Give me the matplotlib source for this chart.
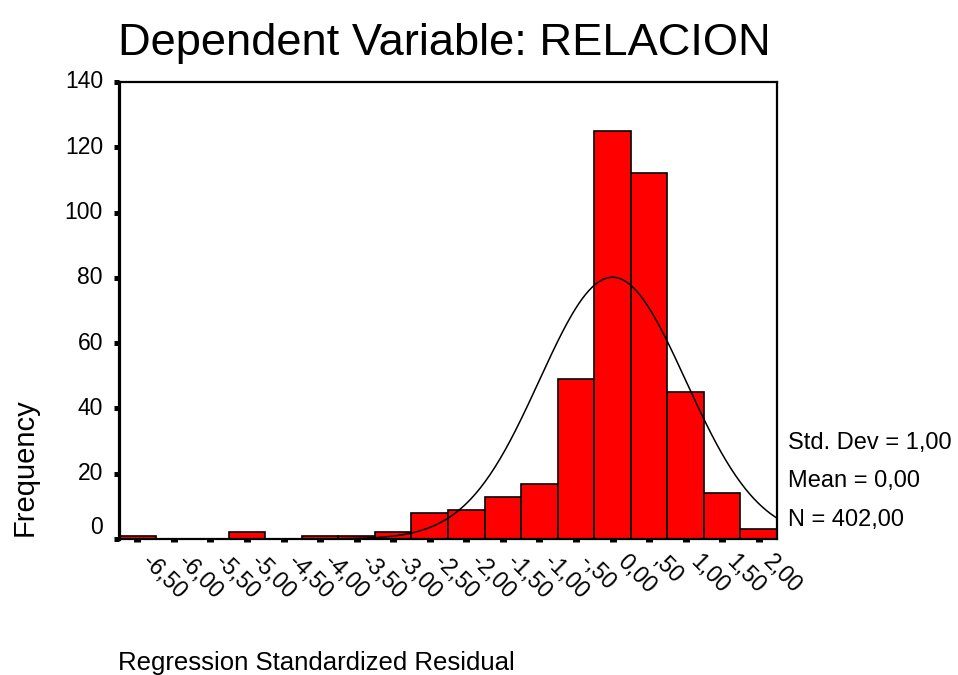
import numpy as np
import matplotlib
matplotlib.use("Agg")
import matplotlib.pyplot as plt
import matplotlib.transforms as mtransforms

plt.rcParams['font.family'] = ['Liberation Sans', 'DejaVu Sans']

# histogram of standardized residuals (bin centers, width 0,50)
bin_centers = [-6.5, -6.0, -5.5, -5.0, -4.5, -4.0, -3.5, -3.0, -2.5,
               -2.0, -1.5, -1.0, -0.5, 0.0, 0.5, 1.0, 1.5, 2.0]
counts = [1, 0, 0, 2, 0, 1, 1, 2, 8, 9, 13, 17, 49, 125, 112, 45, 14, 3]
x_labels = ['-6,50', '-6,00', '-5,50', '-5,00', '-4,50', '-4,00', '-3,50',
            '-3,00', '-2,50', '-2,00', '-1,50', '-1,00', '-,50', '0,00',
            ',50', '1,00', '1,50', '2,00']
y_ticks = [0, 20, 40, 60, 80, 100, 120, 140]
bin_width = 0.5
n_total = 402
mean_val = 0.0
std_val = 1.0

fig = plt.figure(figsize=(9.58, 6.75), dpi=100)
ax = fig.add_axes([119 / 958, 1 - 539 / 675, (777 - 119) / 958, (539 - 82) / 675])

ax.bar(bin_centers, counts, width=bin_width, color='#FF0000',
       edgecolor='black', linewidth=1.2, zorder=2)

# fitted normal curve
xlo = bin_centers[0] - bin_width / 2
xhi = bin_centers[-1] + bin_width / 2
xs = np.linspace(xlo, xhi, 400)
ys = n_total * bin_width / (std_val * np.sqrt(2 * np.pi)) * np.exp(-0.5 * ((xs - mean_val) / std_val) ** 2)
ax.plot(xs, ys, color='black', linewidth=1.1, zorder=3)

ax.set_xlim(xlo, xhi)
ax.set_ylim(0, 140)

for side in ['top', 'right', 'bottom']:
    ax.spines[side].set_linewidth(1.6)
ax.spines['left'].set_linewidth(2.3)

# x ticks: small dashes under each bin
ax.set_xticks(bin_centers)
ax.set_xticklabels([])
ax.tick_params(axis='x', direction='out', length=1.8, width=5, pad=0)

# y ticks: small squares
ax.set_yticks(y_ticks)
ax.set_yticklabels([])
ax.tick_params(axis='y', direction='out', length=3.6, width=3.6)

px = fig.dpi_scale_trans
xform = mtransforms.blended_transform_factory(ax.transData, ax.transAxes)
for c, lab in zip(bin_centers, x_labels):
    ax.text(c, 0, lab, fontsize=16.5, rotation=-45, rotation_mode='anchor',
            ha='left', va='center',
            transform=xform + mtransforms.ScaledTranslation(0.08, -0.19, px))

yform = mtransforms.blended_transform_factory(ax.transAxes, ax.transData)
for v in y_ticks:
    dy = 0.12 if v == 0 else 0.0
    ax.text(0, v, str(v), fontsize=16.5, ha='right', va='center',
            transform=yform + mtransforms.ScaledTranslation(-0.16, dy, px))

fig.text(118 / 958, 1 - 55 / 675, 'Dependent Variable: RELACION',
         fontsize=32.6, ha='left', va='baseline')
fig.text(25 / 958, 1 - 467 / 675, 'Frequency', fontsize=21,
         rotation=90, ha='center', va='center')
fig.text(118 / 958, 1 - 670 / 675, 'Regression Standardized Residual',
         fontsize=18.5, ha='left', va='baseline')

stats = ['Std. Dev = 1,00', 'Mean = 0,00', 'N = 402,00']
for s, yp in zip(stats, [443, 481, 520]):
    fig.text(788 / 958, 1 - yp / 675, s, fontsize=17, ha='left', va='center')

fig.savefig('out.png', dpi=100)
